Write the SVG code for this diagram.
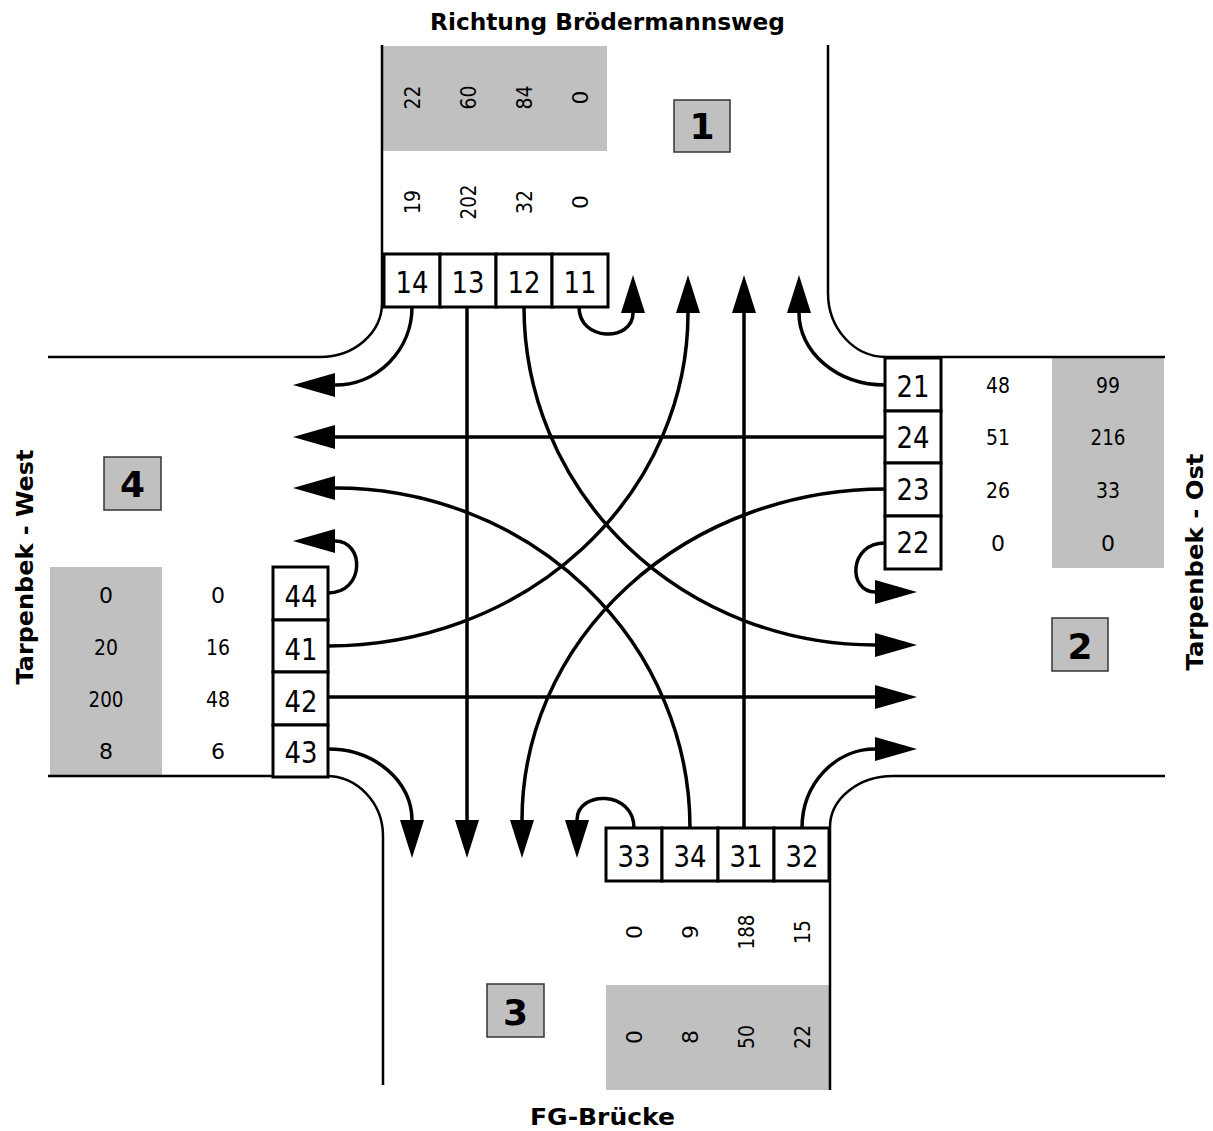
<svg xmlns="http://www.w3.org/2000/svg" width="1213" height="1131" viewBox="0 0 1213 1131">
<style>
.road{fill:none;stroke:#000;stroke-width:2.5}
.gray{fill:#c0c0c0}
.cell{fill:#fff;stroke:#000;stroke-width:3}
.lblbox{fill:#c0c0c0;stroke:#333;stroke-width:1.5}
.fl{fill:none;stroke:#000;stroke-width:3.5}
.fv{marker-end:url(#ahv)}
.fh{marker-end:url(#ahh)}
text{font-family:"DejaVu Sans","Liberation Sans",sans-serif;fill:#000}
.bn{font-size:31px;text-anchor:middle}
.sn{font-size:22px;text-anchor:middle}
.rn{font-size:36px;font-weight:bold;text-anchor:middle}
.tt{font-size:23px;font-weight:bold;text-anchor:middle}
</style>
<defs>
<marker id="ahv" markerUnits="userSpaceOnUse" viewBox="0 0 38 24" refX="0" refY="12" markerWidth="38" markerHeight="24" orient="auto"><path d="M0,0 L38,12 L0,24 z" fill="#000"/></marker>
<marker id="ahh" markerUnits="userSpaceOnUse" viewBox="0 0 42 24" refX="0" refY="12" markerWidth="42" markerHeight="24" orient="auto"><path d="M0,0 L42,12 L0,24 z" fill="#000"/></marker>
</defs>
<rect width="1213" height="1131" fill="#fff"/>

<g id="areas">
<rect class="gray" x="383" y="46" width="224" height="105"/>
<rect class="gray" x="1052" y="358" width="112" height="210"/>
<rect class="gray" x="50" y="567" width="112" height="209"/>
<rect class="gray" x="606" y="985" width="223" height="105"/>
</g>

<g id="roads">
<path class="road" d="M48,357 L320,357 A62,54 0 0 0 382,303 L382,45"/>
<path class="road" d="M828,45 L828,293 A58,64 0 0 0 886,357 L1165,357"/>
<path class="road" d="M48,776 L326,776 A57,60 0 0 1 383,836 L383,1085"/>
<path class="road" d="M1165,776 L893,776 A63,51 0 0 0 830,827 L830,1090"/>
</g>

<g id="connectors">
<path class="fl fh" d="M412,307 A77,78 0 0 1 335,385"/>
<path class="fl fv" d="M467,307 L467,820"/>
<path class="fl fh" d="M524,307 A351,338 0 0 0 875,645"/>
<path class="fl fv" d="M579,307 C579,342 633,342 633,313"/>
<path class="fl fv" d="M885,385 A86,72 0 0 1 799,313"/>
<path class="fl fh" d="M885,437 L335,437"/>
<path class="fl fv" d="M885,489 A363,331 0 0 0 522,820"/>
<path class="fl fh" d="M885,543 C848,543 848,592 875,592"/>
<path class="fl fv" d="M634,828 C634,790 577,790 577,820"/>
<path class="fl fh" d="M690,828 A355,340 0 0 0 335,488"/>
<path class="fl fv" d="M744,828 L744,313"/>
<path class="fl fh" d="M802,828 A73,79 0 0 1 875,749"/>
<path class="fl fh" d="M328,593 C365,593 365,541 335,541"/>
<path class="fl fv" d="M328,646 A360,333 0 0 0 688,313"/>
<path class="fl fh" d="M328,697 L875,697"/>
<path class="fl fv" d="M328,749 A84,71 0 0 1 412,820"/>
</g>

<g id="approach-north">
<rect class="cell" x="384" y="254" width="56" height="53"/>
<rect class="cell" x="440" y="254" width="56" height="53"/>
<rect class="cell" x="496" y="254" width="56" height="53"/>
<rect class="cell" x="552" y="254" width="56" height="53"/>
<text class="bn" x="412" y="293" textLength="33" lengthAdjust="spacingAndGlyphs">14</text>
<text class="bn" x="468" y="293" textLength="33" lengthAdjust="spacingAndGlyphs">13</text>
<text class="bn" x="524" y="293" textLength="33" lengthAdjust="spacingAndGlyphs">12</text>
<text class="bn" x="580" y="293" textLength="33" lengthAdjust="spacingAndGlyphs">11</text>
<text class="sn" transform="translate(420,97.5) rotate(-90)" textLength="24" lengthAdjust="spacingAndGlyphs">22</text>
<text class="sn" transform="translate(476,97.5) rotate(-90)" textLength="24" lengthAdjust="spacingAndGlyphs">60</text>
<text class="sn" transform="translate(532,97.5) rotate(-90)" textLength="24" lengthAdjust="spacingAndGlyphs">84</text>
<text class="sn" transform="translate(588,97.5) rotate(-90)">0</text>
<text class="sn" transform="translate(420,202) rotate(-90)" textLength="24" lengthAdjust="spacingAndGlyphs">19</text>
<text class="sn" transform="translate(476,202) rotate(-90)" textLength="35" lengthAdjust="spacingAndGlyphs">202</text>
<text class="sn" transform="translate(532,202) rotate(-90)" textLength="24" lengthAdjust="spacingAndGlyphs">32</text>
<text class="sn" transform="translate(588,202) rotate(-90)">0</text>
</g>

<g id="approach-east">
<rect class="cell" x="885" y="358" width="56" height="53"/>
<rect class="cell" x="885" y="411" width="56" height="52"/>
<rect class="cell" x="885" y="463" width="56" height="53"/>
<rect class="cell" x="885" y="516" width="56" height="53"/>
<text class="bn" x="913" y="397" textLength="33" lengthAdjust="spacingAndGlyphs">21</text>
<text class="bn" x="913" y="448" textLength="33" lengthAdjust="spacingAndGlyphs">24</text>
<text class="bn" x="913" y="500" textLength="33" lengthAdjust="spacingAndGlyphs">23</text>
<text class="bn" x="913" y="553" textLength="33" lengthAdjust="spacingAndGlyphs">22</text>
<text class="sn" x="998" y="393" textLength="24" lengthAdjust="spacingAndGlyphs">48</text>
<text class="sn" x="998" y="445" textLength="24" lengthAdjust="spacingAndGlyphs">51</text>
<text class="sn" x="998" y="498" textLength="24" lengthAdjust="spacingAndGlyphs">26</text>
<text class="sn" x="998" y="551">0</text>
<text class="sn" x="1108" y="393" textLength="24" lengthAdjust="spacingAndGlyphs">99</text>
<text class="sn" x="1108" y="445" textLength="35" lengthAdjust="spacingAndGlyphs">216</text>
<text class="sn" x="1108" y="498" textLength="24" lengthAdjust="spacingAndGlyphs">33</text>
<text class="sn" x="1108" y="551">0</text>
</g>

<g id="approach-south">
<rect class="cell" x="606" y="828" width="56" height="53"/>
<rect class="cell" x="662" y="828" width="56" height="53"/>
<rect class="cell" x="718" y="828" width="56" height="53"/>
<rect class="cell" x="774" y="828" width="55" height="53"/>
<text class="bn" x="634" y="867" textLength="33" lengthAdjust="spacingAndGlyphs">33</text>
<text class="bn" x="690" y="867" textLength="33" lengthAdjust="spacingAndGlyphs">34</text>
<text class="bn" x="746" y="867" textLength="33" lengthAdjust="spacingAndGlyphs">31</text>
<text class="bn" x="802" y="867" textLength="33" lengthAdjust="spacingAndGlyphs">32</text>
<text class="sn" transform="translate(642,932) rotate(-90)">0</text>
<text class="sn" transform="translate(698,932) rotate(-90)">9</text>
<text class="sn" transform="translate(754,932) rotate(-90)" textLength="35" lengthAdjust="spacingAndGlyphs">188</text>
<text class="sn" transform="translate(810,932) rotate(-90)" textLength="24" lengthAdjust="spacingAndGlyphs">15</text>
<text class="sn" transform="translate(642,1037) rotate(-90)">0</text>
<text class="sn" transform="translate(698,1037) rotate(-90)">8</text>
<text class="sn" transform="translate(754,1037) rotate(-90)" textLength="24" lengthAdjust="spacingAndGlyphs">50</text>
<text class="sn" transform="translate(810,1037) rotate(-90)" textLength="24" lengthAdjust="spacingAndGlyphs">22</text>
</g>

<g id="approach-west">
<rect class="cell" x="273" y="567" width="55" height="53"/>
<rect class="cell" x="273" y="620" width="55" height="52"/>
<rect class="cell" x="273" y="672" width="55" height="53"/>
<rect class="cell" x="273" y="725" width="55" height="52"/>
<text class="bn" x="301" y="607" textLength="33" lengthAdjust="spacingAndGlyphs">44</text>
<text class="bn" x="301" y="660" textLength="33" lengthAdjust="spacingAndGlyphs">41</text>
<text class="bn" x="301" y="712" textLength="33" lengthAdjust="spacingAndGlyphs">42</text>
<text class="bn" x="301" y="763" textLength="33" lengthAdjust="spacingAndGlyphs">43</text>
<text class="sn" x="106" y="603">0</text>
<text class="sn" x="106" y="655" textLength="24" lengthAdjust="spacingAndGlyphs">20</text>
<text class="sn" x="106" y="707" textLength="35" lengthAdjust="spacingAndGlyphs">200</text>
<text class="sn" x="106" y="759">8</text>
<text class="sn" x="218" y="603">0</text>
<text class="sn" x="218" y="655" textLength="24" lengthAdjust="spacingAndGlyphs">16</text>
<text class="sn" x="218" y="707" textLength="24" lengthAdjust="spacingAndGlyphs">48</text>
<text class="sn" x="218" y="759">6</text>
</g>

<g id="region-1"><rect class="lblbox" x="674" y="100" width="56" height="52"/><text class="rn" x="702" y="139">1</text></g>
<g id="region-2"><rect class="lblbox" x="1052" y="618" width="56" height="53"/><text class="rn" x="1080" y="659">2</text></g>
<g id="region-3"><rect class="lblbox" x="487" y="984" width="57" height="53"/><text class="rn" x="515.5" y="1025">3</text></g>
<g id="region-4"><rect class="lblbox" x="104" y="457" width="57" height="53"/><text class="rn" x="132.5" y="497">4</text></g>

<g id="labels">
<text class="tt" x="607.5" y="30" textLength="355" lengthAdjust="spacingAndGlyphs">Richtung Brödermannsweg</text>
<text class="tt" x="602.5" y="1125" textLength="145" lengthAdjust="spacingAndGlyphs">FG-Brücke</text>
<text class="tt" transform="translate(33,567) rotate(-90)" textLength="235" lengthAdjust="spacingAndGlyphs">Tarpenbek - West</text>
<text class="tt" transform="translate(1203,562) rotate(-90)" textLength="217" lengthAdjust="spacingAndGlyphs">Tarpenbek - Ost</text>
</g>
</svg>
